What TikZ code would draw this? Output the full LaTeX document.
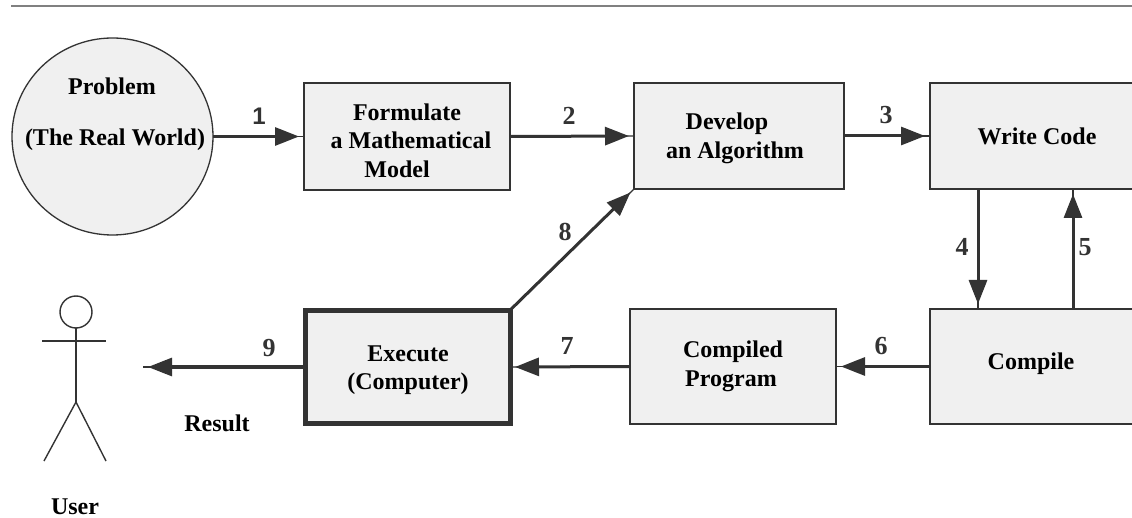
\documentclass[tikz,border=0pt]{standalone}
\usepackage{fontspec}
\setmainfont{Liberation Serif}
\newfontfamily\onefont{Liberation Sans}
\usetikzlibrary{arrows.meta,shapes.geometric}
\definecolor{ink}{HTML}{333333}
\definecolor{boxfill}{HTML}{F0F0F0}
\definecolor{rulegray}{HTML}{808080}
\tikzset{
  stage/.style={draw=ink,fill=boxfill,line width=1.5pt,rectangle,outer sep=0pt,inner sep=0pt},
  txt/.style={font=\fontsize{24}{28.5}\selectfont\bfseries,text=black,align=center,inner sep=0pt},
  num/.style={font=\fontsize{26}{28}\selectfont\bfseries,text=ink,inner sep=0pt},
  stick/.style={draw=ink,line width=1.4pt},
  conn/.style={draw=ink,line width=3pt,shorten >=5pt,
    -{Triangle[length=24pt,width=18pt]},
    preaction={draw=ink,line width=1.3pt,-,shorten >=0pt}},
}
\begin{document}
\begin{tikzpicture}[x=1pt,y=-1pt]
\useasboundingbox (0,0) rectangle (1132,518);
\clip (0,0) rectangle (1132,518);
\coordinate (ruleL) at (11,6);
\coordinate (ruleR) at (1132,6);
\draw[rulegray,line width=2pt] (ruleL) -- (ruleR);

\node[ellipse,draw=ink,fill=boxfill,line width=1.3pt,minimum width=201pt,minimum height=197pt,inner sep=0pt,outer sep=0pt] (problem) at (112.5,136.5) {};
\node[stage,minimum width=206pt,minimum height=107pt] (formulate) at (407,136.5) {};
\node[stage,minimum width=210pt,minimum height=106pt] (develop) at (739,136) {};
\node[stage,minimum width=220pt,minimum height=106pt] (write) at (1040,136) {};
\node[stage,minimum width=220pt,minimum height=115pt] (compile) at (1040,366.5) {};
\node[stage,minimum width=206pt,minimum height=115pt] (compiled) at (733,366.5) {};
\node[stage,line width=5pt,minimum width=204.5pt,minimum height=113.5pt] (execute) at (407.75,367) {};

\node[txt] (tProblem) at (112,86) {Problem};
\node[txt] (tWorld) at (115,140) {(The Real World)};
\node[txt] (tFormulate) at (405,140.5) {\hspace*{4pt}Formulate\\\hspace*{12pt}a Mathematical\\Model\hspace*{16pt}};
\node[txt] (tDevelop) at (735,138.5) {Develop\hspace*{16pt}\\an Algorithm};
\node[txt] (tWrite) at (1037,136) {Write Code};
\node[txt] (tCompile) at (1031,364) {Compile};
\node[txt] (tCompiled) at (733,366.5) {Compiled\\Program\hspace*{4pt}};
\node[txt] (tExecute) at (408,370) {Execute\\(Computer)};
\node[txt] (tResult) at (217,423) {Result};
\node[txt] (tUser) at (75,507) {User};

\node[num,font=\fontsize{24}{28}\selectfont\bfseries\onefont] (n1) at (259,116) {1};
\node[num] (n2) at (569,116) {2};
\node[num] (n3) at (886,115) {3};
\node[num] (n4) at (962,247) {4};
\node[num] (n5) at (1085,247) {5};
\node[num] (n6) at (881,346) {6};
\node[num] (n7) at (567,346) {7};
\node[num] (n8) at (565,232) {8};
\node[num] (n9) at (269,348) {9};

\coordinate (c4) at (978,250);
\coordinate (c5) at (1073,250);
\coordinate (out) at (143,367);

\draw[conn] (problem.east) -- (formulate.west);
\draw[conn] (formulate.east) -- (develop.west);
\draw[conn] (develop.east) -- (write.west);
\draw[conn] (write.south -| c4) -- (compile.north -| c4);
\draw[conn] (compile.north -| c5) -- (write.south -| c5);
\draw[conn] (compile.west) -- (compiled.east);
\draw[conn] (compiled.west) -- (execute.east);
\draw[conn] (execute.north east) -- (develop.south west);
\draw[conn] (execute.west) -- (out);

% User figure
\node[circle,stick,fill=white,minimum size=32pt,inner sep=0pt,outer sep=0pt] (head) at (76,312) {};
\coordinate (hip) at (76,402);
\coordinate (armL) at (42,341);
\coordinate (armR) at (106,341);
\coordinate (footL) at (44,461);
\coordinate (footR) at (106,461);
\draw[stick] (head.south) -- (hip);
\draw[stick] (armL) -- (armR);
\draw[stick] (footL) -- (hip) -- (footR);
\end{tikzpicture}
\end{document}
